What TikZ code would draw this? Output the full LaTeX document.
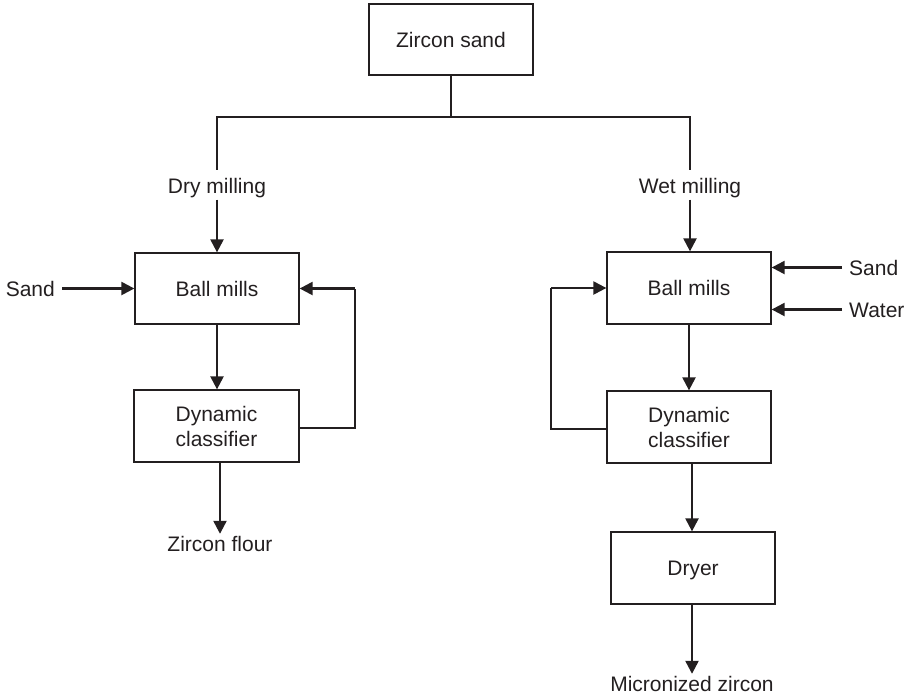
\documentclass[tikz,border=0pt]{standalone}
\usepackage{fontspec}
\setmainfont{Liberation Sans}
\usetikzlibrary{arrows.meta}
\definecolor{ink}{RGB}{35,31,32}
\tikzset{
  every node/.style={font=\fontsize{21}{25}\selectfont, text=ink},
  box/.style={draw=ink, line width=1.3pt, minimum width=164pt, minimum height=72pt,
              inner sep=0pt, align=center},
  onebox/.style={box, text height=15pt, text depth=0pt},
  flowlbl/.style={inner xsep=0pt, inner ysep=2pt, text height=15pt, text depth=4.5pt},
  sidelbl/.style={inner xsep=7pt, inner ysep=2pt, text height=15pt, text depth=0pt},
  wire/.style={draw=ink, line width=1.3pt},
  feed/.style={draw=ink, line width=2.3pt, -{Triangle[length=13pt,width=13pt]}},
}
\begin{document}
\begin{tikzpicture}[x=1pt, y=-1pt]
\useasboundingbox (0,0) rectangle (912,697);

% process boxes
\node[onebox, minimum height=71pt] (zs)  at (451,39.5)  {Zircon sand};
\node[onebox, minimum height=71pt] (bmL) at (217,288.5) {Ball mills};
\node[box, minimum width=165pt]    (dcL) at (216.5,426) {Dynamic\\classifier};
\node[onebox] (bmR) at (689,288) {Ball mills};
\node[box]    (dcR) at (689,427) {Dynamic\\classifier};
\node[onebox] (dry) at (693,568) {Dryer};

% stream labels
\node[flowlbl, anchor=base] (dryL)  at (217,193) {Dry milling};
\node[flowlbl, anchor=base] (wetL)  at (690,193) {Wet milling};
\node[flowlbl, anchor=base] (flour) at (220,551) {Zircon flour};
\node[flowlbl, anchor=base] (micro) at (692,691) {Micronized zircon};
\node[sidelbl, anchor=base east] (sandL)  at (62,296)  {Sand};
\node[sidelbl, anchor=base west] (sandR)  at (842,275) {Sand};
\node[sidelbl, anchor=base west] (waterR) at (842,317) {Water};

% split of the feed into the two routes
\coordinate (split) at (451,117);
\draw[wire] (zs.south) -- (split);
\draw[wire, shorten >=6pt] (split) -| (dryL.north);
\draw[wire, shorten >=6pt] (split) -| (wetL.north);

% dry route
\draw[feed] (dryL.south) -- (dryL.south |- bmL.north);
\draw[feed] (sandL.east) -- (sandL.east -| bmL.west);
\draw[feed] (bmL.south) -- (bmL.south |- dcL.north);
\draw[feed] (dcL.south -| flour.north) -- (flour.north);
\coordinate (fbLlow) at (355,428);
\coordinate (fbLtop) at (355,288.5);
\draw[wire] (fbLlow -| dcL.east) -- (fbLlow) -- (fbLtop);
\draw[feed] (fbLtop) -- (fbLtop -| bmL.east);

% wet route
\draw[feed] (wetL.south) -- (wetL.south |- bmR.north);
\draw[feed] (sandR.west) -- (sandR.west -| bmR.east);
\draw[feed] (waterR.west) -- (waterR.west -| bmR.east);
\draw[feed] (bmR.south) -- (bmR.south |- dcR.north);
\coordinate (fbRlow) at (551,429);
\coordinate (fbRtop) at (551,288);
\draw[wire] (fbRlow -| dcR.west) -- (fbRlow) -- (fbRtop);
\draw[feed] (fbRtop) -- (fbRtop -| bmR.west);
\draw[feed] (dcR.south -| micro.north) -- (dry.north -| micro.north);
\draw[feed] (dry.south -| micro.north) -- (micro.north);
\end{tikzpicture}
\end{document}
